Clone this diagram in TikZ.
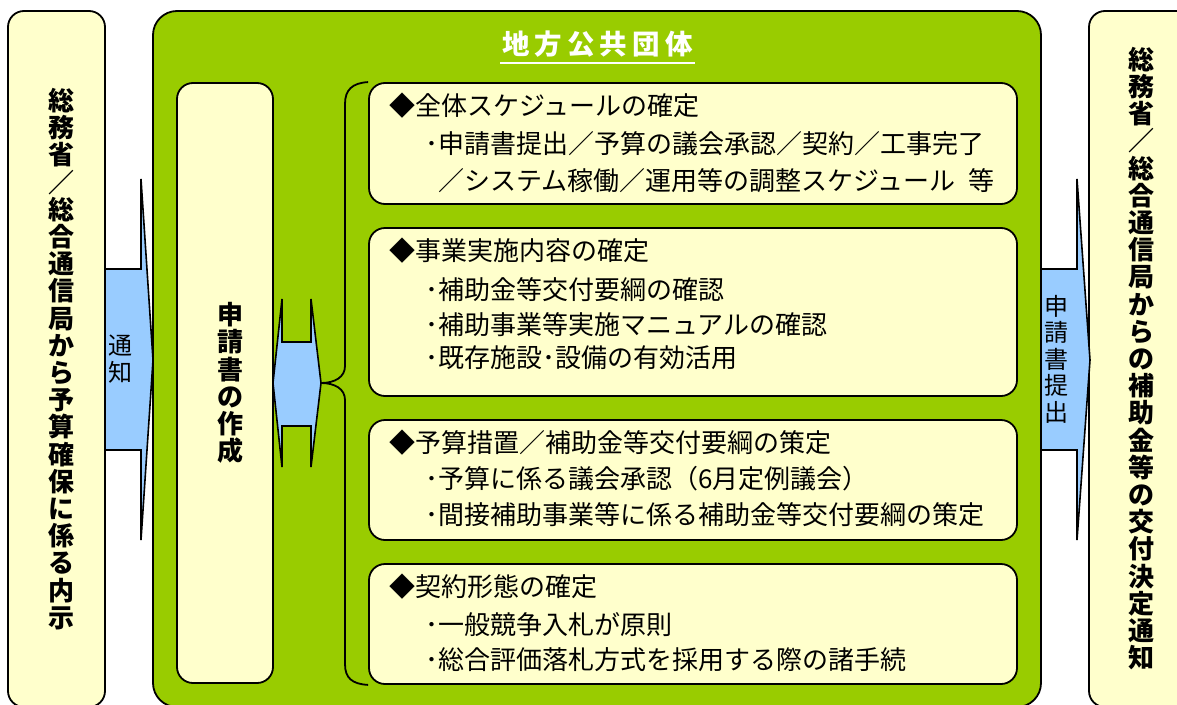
\documentclass[tikz,border=0pt]{standalone}
\usepackage{fontspec}
\setmainfont{Noto Sans CJK JP}
\definecolor{yfill}{HTML}{FFFFCC}
\definecolor{gfill}{HTML}{99CC00}
\definecolor{bfill}{HTML}{99CCFF}
\tikzset{
  ybox/.style={draw=black, line width=1.8pt, fill=yfill, rounded corners=16pt, inner sep=0pt},
  gbox/.style={draw=black, line width=1.8pt, fill=gfill, rounded corners=24pt, inner sep=0pt},
  vbold/.style={align=center, inner sep=0pt, font=\fontsize{26}{27.2}\selectfont\bfseries},
  vreg/.style={align=center, inner sep=0pt, font=\fontsize{24}{26.5}\selectfont},
  item/.style={anchor=west, inner sep=0pt, font=\fontsize{26}{26}\selectfont, text height=23pt, text depth=3pt},
  blockarrow/.style={draw=black, line width=1.6pt, fill=bfill, line join=miter},
  braceline/.style={draw=black, line width=1.8pt},
}
\begin{document}
\begin{tikzpicture}[x=1pt,y=-1pt]
\useasboundingbox (0,0) rectangle (1177,704);
% outer boxes
\node[ybox, minimum width=97pt, minimum height=696pt] (notice) at (56.5,359) {};
\node[gbox, minimum width=888pt, minimum height=696pt] (gov) at (597,359) {};
\node[ybox, minimum width=105pt, minimum height=696pt] (decision) at (1141.5,359) {};
% inner boxes
\node[ybox, minimum width=96pt, minimum height=600pt] (form) at (225,383) {};
\node[ybox, minimum width=648pt, minimum height=121pt] (b1) at (693,143.5) {};
\node[ybox, minimum width=648pt, minimum height=168pt] (b2) at (693,312) {};
\node[ybox, minimum width=648pt, minimum height=120pt] (b3) at (693,480) {};
\node[ybox, minimum width=648pt, minimum height=120pt] (b4) at (693,624) {};
% vertical texts
\node[vbold] (noticetext) at (61,359) {総\\務\\省\\／\\総\\合\\通\\信\\局\\か\\ら\\予\\算\\確\\保\\に\\係\\る\\内\\示};
\node[vbold] (decisiontext) at (1141.5,358.5) {総\\務\\省\\／\\総\\合\\通\\信\\局\\か\\ら\\の\\補\\助\\金\\等\\の\\交\\付\\決\\定\\通\\知};
\node[vbold] (formtext) at (230,383) {申\\請\\書\\の\\作\\成};
% title
\node[inner sep=0pt, text=white, font=\fontsize{27.5}{27.5}\selectfont\bfseries, text height=24pt, text depth=3pt] (title) at (597.5,44) {地\kern5pt方\kern5pt公\kern5pt共\kern5pt団\kern5pt体};
\draw[white, line width=2.2pt] (title.south west) ++(-2,5) coordinate (ulA) -- (ulA -| title.south east) -- ++(2,0);
% arrows
\draw[blockarrow] (105,269) -- (141,269) -- (141,179) -- (153,360) -- (141,540) -- (141,450) -- (105,450) -- cycle;
\node[vreg] (noticearrow) at (120,359) {通\\知};
\draw[blockarrow] (1041,269) -- (1077,269) -- (1077,179) -- (1090,360) -- (1077,540) -- (1077,450) -- (1041,450) -- cycle;
\node[vreg] (submitarrow) at (1056.5,359) {申\\請\\書\\提\\出};
\coordinate (tip) at (321,383);
\draw[blockarrow] (273,383) -- (282,299) -- (282,342) -- (311,342) -- (311,299) -- (tip) -- (311,467) -- (311,426) -- (282,426) -- (282,467) -- cycle;
% brace
\draw[braceline] (b1.north west) .. controls (352,83) and (345,90) .. (345,104) -- (345,366) .. controls (345,377) and (335,383) .. (tip) .. controls (335,383) and (345,389) .. (345,400) -- (345,664) .. controls (345,678) and (352,684) .. (b4.south west);
% items
\node[item] (t11) at (389,105) {◆全体スケジュールの確定};
\node[item] (t12) at (425,143) {･申請書提出／予算の議会承認／契約／工事完了};
\node[item] (t13) at (438,180) {／システム稼働／運用等の調整スケジュール\hspace{13pt}等};
\node[item] (t21) at (389,250) {◆事業実施内容の確定};
\node[item] (t22) at (425,289) {･補助金等交付要綱の確認};
\node[item] (t23) at (425,324) {･補助事業等実施マニュアルの確認};
\node[item] (t24) at (425,357) {･既存施設･設備の有効活用};
\node[item] (t31) at (389,442) {◆予算措置／補助金等交付要綱の策定};
\node[item] (t32) at (425,478) {･予算に係る議会承認（6月定例議会）};
\node[item] (t33) at (425,514) {･間接補助事業等に係る補助金等交付要綱の策定};
\node[item] (t41) at (389,586) {◆契約形態の確定};
\node[item] (t42) at (425,624) {･一般競争入札が原則};
\node[item] (t43) at (425,659) {･総合評価落札方式を採用する際の諸手続};
\end{tikzpicture}
\end{document}
